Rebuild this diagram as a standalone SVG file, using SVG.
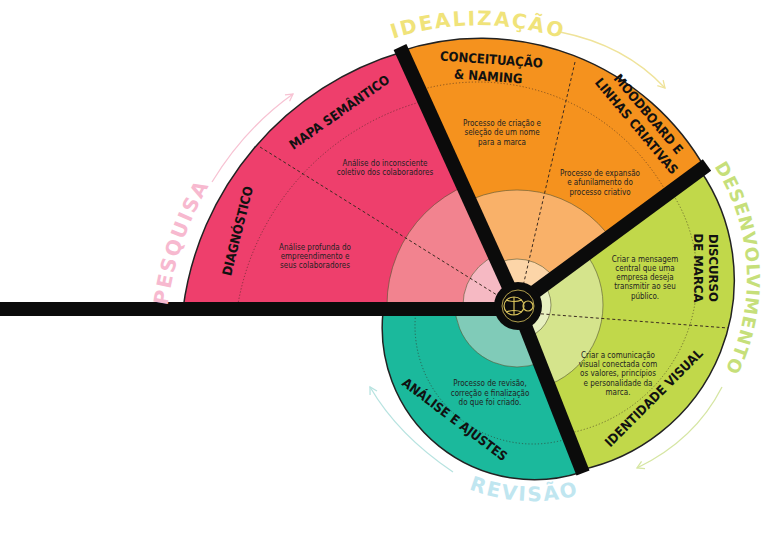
<svg xmlns="http://www.w3.org/2000/svg" width="765" height="543" viewBox="0 0 765 543">
<defs>
<style>
.lbl{font-family:"DejaVu Sans Condensed","DejaVu Sans",sans-serif;font-stretch:condensed;font-weight:bold;font-size:13px;fill:#111;text-anchor:middle}
.body{font-family:"DejaVu Sans Condensed","DejaVu Sans",sans-serif;font-stretch:condensed;font-size:8px;fill:#222;text-anchor:middle}
.phase{font-family:"DejaVu Sans","Liberation Sans",sans-serif;font-weight:bold;font-size:20px;letter-spacing:2px;text-anchor:middle}
.dash{stroke:#3a2a20;stroke-width:1;stroke-dasharray:3 2.5;fill:none}
.dot{stroke:#3a2a20;stroke-width:0.8;stroke-dasharray:1.2 2;fill:none;opacity:.7}
.ring{stroke:#553;stroke-width:0.6}
.bar{stroke:#0b0b0b;stroke-width:14;fill:none}
.arr{fill:none;stroke-width:1.3}
</style>
<clipPath id="cP"><path d="M517,305 L183,309 A309,309 0 0 1 402,52 Z"/></clipPath>
<clipPath id="cO"><path d="M517,305 L398,52 A258,258 0 0 1 706,170 Z"/></clipPath>
<clipPath id="cG"><path d="M517,305 L700,170 A194,194 0 0 1 580,470 Z"/></clipPath>
<clipPath id="cT"><path d="M517,305 L582,472 A152,152 0 0 1 383,312 Z"/></clipPath>
<path id="tpP" d="M184,460 A326,326 0 0 1 318,73"/>
<path id="tpY" d="M303,89 A272,272 0 0 1 653,89"/>
<path id="tpG" d="M707,156 A207,207 0 0 1 719,382"/>
<path id="tpT" d="M381,414 A176,176 0 0 0 675,429"/>
<marker id="mP" markerWidth="10" markerHeight="10" refX="8" refY="5" orient="auto" markerUnits="userSpaceOnUse"><path d="M1,1 L8,5 L1,9" fill="none" stroke="#f7c3d3" stroke-width="1.3"/></marker>
<marker id="mY" markerWidth="10" markerHeight="10" refX="8" refY="5" orient="auto" markerUnits="userSpaceOnUse"><path d="M1,1 L8,5 L1,9" fill="none" stroke="#efe39a" stroke-width="1.3"/></marker>
<marker id="mG" markerWidth="10" markerHeight="10" refX="8" refY="5" orient="auto" markerUnits="userSpaceOnUse"><path d="M1,1 L8,5 L1,9" fill="none" stroke="#d6e6a3" stroke-width="1.3"/></marker>
<marker id="mT" markerWidth="10" markerHeight="10" refX="8" refY="5" orient="auto" markerUnits="userSpaceOnUse"><path d="M1,1 L8,5 L1,9" fill="none" stroke="#b7e3e0" stroke-width="1.3"/></marker>
</defs>
<rect width="765" height="543" fill="#fff"/>

<g id="pesquisa">
<path d="M517,305 L183,309 A309,309 0 0 1 402,52 Z" fill="#ee3f6c" stroke="#222" stroke-width="1.5"/>
<g clip-path="url(#cP)">
<circle cx="491" cy="349" r="257" class="dot"/>
<circle cx="517" cy="305" r="130" fill="#f2838f" class="ring"/>
<circle cx="517" cy="305" r="54" fill="#f6b9c3" class="ring"/>
</g>
<line x1="260" y1="147" x2="505" y2="300" class="dash"/>
<text class="lbl" transform="translate(242,232) rotate(-76)">DIAGNÓSTICO</text>
<text class="lbl" transform="translate(342,116) rotate(-35)">MAPA SEMÂNTICO</text>
<text class="body" x="385" y="166">Análise do inconsciente</text>
<text class="body" x="385" y="175">coletivo dos colaboradores</text>
<text class="body" x="315" y="250">Análise profunda do</text>
<text class="body" x="315" y="259">empreendimento e</text>
<text class="body" x="315" y="268">seus colaboradores</text>
</g>

<g id="idealizacao">
<path d="M517,305 L398,52 A258,258 0 0 1 706,170 Z" fill="#f5921e" stroke="#222" stroke-width="1.5"/>
<g clip-path="url(#cO)">
<circle cx="478" cy="298" r="216" class="dot"/>
<circle cx="517" cy="305" r="115" fill="#f9b169" class="ring"/>
<circle cx="517" cy="305" r="46" fill="#fcd5a8" class="ring"/>
</g>
<line x1="575" y1="62" x2="521" y2="295" class="dash"/>
<text class="lbl" transform="translate(491,64) rotate(4)">CONCEITUAÇÃO</text>
<text class="lbl" transform="translate(488,81) rotate(4)">&amp; NAMING</text>
<text class="lbl" transform="translate(645,117) rotate(50)">MOODBOARD E</text>
<text class="lbl" transform="translate(633,129) rotate(50)">LINHAS CRIATIVAS</text>
<text class="body" x="502" y="126">Processo de criação e</text>
<text class="body" x="502" y="135">seleção de um nome</text>
<text class="body" x="502" y="145">para a marca</text>
<text class="body" x="600" y="176">Processo de expansão</text>
<text class="body" x="600" y="185">e afunilamento do</text>
<text class="body" x="600" y="195">processo criativo</text>
</g>

<g id="desenvolvimento">
<path d="M517,305 L700,170 A194,194 0 0 1 580,470 Z" fill="#c1d84a" stroke="#222" stroke-width="1.5"/>
<g clip-path="url(#cG)">
<circle cx="539" cy="278" r="158" class="dot"/>
<circle cx="517" cy="305" r="86" fill="#d5e48c" class="ring"/>
<circle cx="517" cy="305" r="34" fill="#e7f0c0" class="ring"/>
</g>
<line x1="530" y1="313" x2="728" y2="328" class="dash"/>
<text class="lbl" transform="translate(709,268) rotate(90)">DISCURSO</text>
<text class="lbl" transform="translate(694,268) rotate(90)">DE MARCA</text>
<text class="lbl" transform="translate(657,401) rotate(-45)">IDENTIDADE VISUAL</text>
<text class="body" x="645" y="262">Criar a mensagem</text>
<text class="body" x="645" y="271">central que uma</text>
<text class="body" x="645" y="280">empresa deseja</text>
<text class="body" x="645" y="289">transmitir ao seu</text>
<text class="body" x="645" y="299">público.</text>
<text class="body" x="618" y="358">Criar a comunicação</text>
<text class="body" x="618" y="367">visual conectada com</text>
<text class="body" x="618" y="376">os valores, princípios</text>
<text class="body" x="618" y="386">e personalidade da</text>
<text class="body" x="618" y="395">marca.</text>
</g>

<g id="revisao">
<path d="M517,305 L582,472 A152,152 0 0 1 383,312 Z" fill="#1bb99c" stroke="#222" stroke-width="1.5"/>
<g clip-path="url(#cT)">
<circle cx="533" cy="326" r="118" class="dot"/>
<circle cx="517" cy="305" r="62" fill="#80cbb8" class="ring"/>
</g>
<text class="lbl" transform="translate(452,423) rotate(37)">ANÁLISE E AJUSTES</text>
<text class="body" x="490" y="386">Processo de revisão,</text>
<text class="body" x="490" y="396">correção e finalização</text>
<text class="body" x="490" y="405">do que foi criado.</text>
</g>

<g id="connectors">
<line x1="0" y1="309" x2="517" y2="309" class="bar" stroke-width="13"/>
<line x1="517" y1="305" x2="400" y2="47" class="bar"/>
<line x1="517" y1="305" x2="707" y2="165" class="bar"/>
<line x1="517" y1="305" x2="583" y2="473" class="bar"/>
<path d="M212,182 Q245,128 293,94" class="arr" stroke="#f7c3d3" marker-end="url(#mP)"/>
<path d="M560,32 Q625,45 665,88" class="arr" stroke="#efe39a" marker-end="url(#mY)"/>
<path d="M722,387 Q695,440 637,468" class="arr" stroke="#d6e6a3" marker-end="url(#mG)"/>
<path d="M453,472 Q398,435 370,387" class="arr" stroke="#b7e3e0" marker-end="url(#mT)"/>
</g>

<g id="center">
<circle cx="518" cy="306" r="24" fill="#0b0b0b"/>
<g fill="none" stroke="#d9c35c" stroke-width="1.2">
<ellipse cx="514" cy="306" rx="10" ry="9"/>
<circle cx="528" cy="306" r="5"/>
<line x1="514" y1="297" x2="514" y2="315"/>
<path d="M506,300 Q514,303 522,300 M506,312 Q514,309 522,312"/>
<circle cx="518" cy="306" r="16" stroke-width="0.8"/>
</g>
</g>

<g id="phases">
<text class="phase" fill="#f7b9cf"><textPath href="#tpP" startOffset="50%">PESQUISA</textPath></text>
<text class="phase" fill="#f0e37a"><textPath href="#tpY" startOffset="50%">IDEALIZAÇÃO</textPath></text>
<text class="phase" fill="#c6df7a" style="letter-spacing:1px;font-size:18px"><textPath href="#tpG" startOffset="50%">DESENVOLVIMENTO</textPath></text>
<text class="phase" fill="#c0e6f0"><textPath href="#tpT" startOffset="50%">REVISÃO</textPath></text>
</g>
</svg>
